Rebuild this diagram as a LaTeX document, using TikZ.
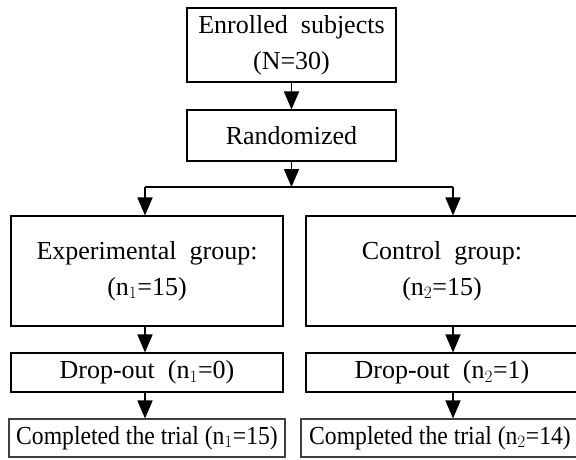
\documentclass[tikz,border=0pt]{standalone}
\usepackage{fontspec}
\setmainfont{Liberation Serif}
\newfontfamily\condensedserif[FakeStretch=0.91]{Liberation Serif}
\usetikzlibrary{arrows.meta}
\begin{document}
\begin{tikzpicture}[x=1pt,y=-1pt,
  box/.style={draw=black,line width=1.1pt,inner sep=0pt,align=center,font=\fontsize{26}{36}\selectfont},
  cbox/.style={box,draw=black!75,font=\condensedserif\fontsize{26}{30}\selectfont},
  arr/.style={line width=1.6pt,-{Triangle[width=15pt,length=18pt]}},
  ln/.style={line width=1.6pt}]
\useasboundingbox[fill=white] (0,0) rectangle (576,459);
\begin{scope}
\clip (0,0) rectangle (576,459);
\node[box,minimum width=209pt,minimum height=74pt] (enr) at (291.5,45) {Enrolled\ \ subjects\\(N=30)};
\node[box,minimum width=209pt,minimum height=51pt] (rand) at (291.5,135.5) {Randomized};
\coordinate (split) at (291.5,187);
\coordinate (sl) at (145,187);
\coordinate (sr) at (453,187);
\node[box,minimum width=272pt,minimum height=110pt] (exp) at (147,271) {Experimental\ \ group:\\(n$_1$=15)};
\node[box,minimum width=272pt,minimum height=110pt] (ctl) at (442,271) {Control\ \ group:\\(n$_2$=15)};
\node[box,minimum width=272pt,minimum height=39pt] (dl) at (147,372.5) {Drop-out\ \ (n$_1$=0)};
\node[box,minimum width=272pt,minimum height=39pt] (dr) at (442,372.5) {Drop-out\ \ (n$_2$=1)};
\node[cbox,minimum width=276pt,minimum height=38pt] (cl) at (147,438) {Completed the trial (n$_1$=15)};
\node[cbox,minimum width=278pt,minimum height=38pt] (cr) at (440,438) {Completed the trial (n$_2$=14)};
\draw[arr] (enr) -- (rand);
\draw[arr] (rand) -- (split);
\draw[ln] (sl) -- (sr);
\draw[arr] (sl) -- (sl |- exp.north);
\draw[arr] (sr) -- (sr |- ctl.north);
\draw[arr] (sl |- exp.south) -- (sl |- dl.north);
\draw[arr] (sr |- ctl.south) -- (sr |- dr.north);
\draw[arr] (sl |- dl.south) -- (sl |- cl.north);
\draw[arr] (sr |- dr.south) -- (sr |- cr.north);
\end{scope}
\end{tikzpicture}
\end{document}
